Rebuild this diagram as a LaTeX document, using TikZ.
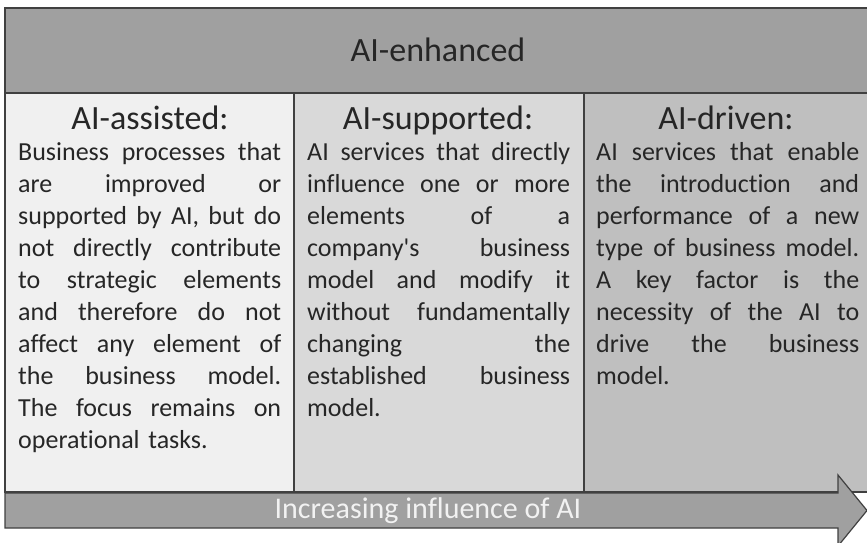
\documentclass[tikz,border=0pt]{standalone}
\usepackage{fontspec}
\setmainfont{Carlito}[Ligatures=NoCommon]
\definecolor{bordergray}{HTML}{404040}
\definecolor{topgray}{HTML}{A0A0A0}
\definecolor{colone}{HTML}{F0F0F0}
\definecolor{coltwo}{HTML}{D9D9D9}
\definecolor{colthree}{HTML}{BFBFBF}
\definecolor{arrowgray}{HTML}{A0A0A0}
\definecolor{textdark}{HTML}{262626}
\newcommand{\jl}[1]{\makebox[263pt][s]{\spaceskip=0.226em plus 20em\relax #1}\\}
\tikzset{
  panel/.style={draw=bordergray, line width=1.2pt},
  heading/.style={font=\fontsize{34}{40}\selectfont, text=textdark, anchor=base, inner sep=0pt},
  bodytext/.style={font=\fontsize{26}{32}\selectfont, text=textdark, anchor=base west, inner sep=0pt, text width=263pt, align=left},
}
\begin{document}
\begin{tikzpicture}[x=1pt,y=-1pt]
\useasboundingbox (0,0) rectangle (867,543);
\clip (0,0) rectangle (867,543);
% top bar
\draw[panel, fill=topgray, line width=2pt] (5,8) rectangle (880,93);
\node[font=\fontsize{34}{40}\selectfont, text=textdark, inner sep=0pt] (top) at (438,50) {AI-enhanced};
% columns
\draw[panel, fill=colone] (5,93) rectangle (294,492);
\draw[panel, fill=coltwo] (294,93) rectangle (584,492);
\draw[panel, fill=colthree] (584,93) rectangle (880,492);
% headings
\node[heading] (h1) at (150,129) {AI-assisted:};
\node[heading] (h2) at (438,129) {AI-supported:};
\node[heading] (h3) at (726,129) {AI-driven:};
% bodies
\node[bodytext] (b1) at (18,160) {%
\jl{Business processes that}
\jl{are improved or}
\jl{supported by AI, but do}
\jl{not directly contribute}
\jl{to strategic elements}
\jl{and therefore do not}
\jl{affect any element of}
\jl{the business model.}
\jl{The focus remains on}
operational tasks.};
\node[bodytext] (b2) at (307,160) {%
\jl{AI services that directly}
\jl{influence one or more}
\jl{elements of a}
\jl{company\textquotesingle s business}
\jl{model and modify it}
\jl{without fundamentally}
\jl{changing the}
\jl{established business}
model.};
\node[bodytext] (b3) at (596,160) {%
\jl{AI services that enable}
\jl{the introduction and}
\jl{performance of a new}
\jl{type of business model.}
\jl{A key factor is the}
\jl{necessity of the AI to}
\jl{drive the business}
model.};
% arrow
\draw[panel, fill=arrowgray, line join=miter] (5,493) -- (838,493) -- (838,475) -- (867,510.5) -- (838,546) -- (838,528) -- (5,528) -- cycle;
\node[font=\fontsize{30}{36}\selectfont, text=white!95!black, inner sep=0pt] (arr) at (428,511) {Increasing influence of AI};
\end{tikzpicture}
\end{document}
